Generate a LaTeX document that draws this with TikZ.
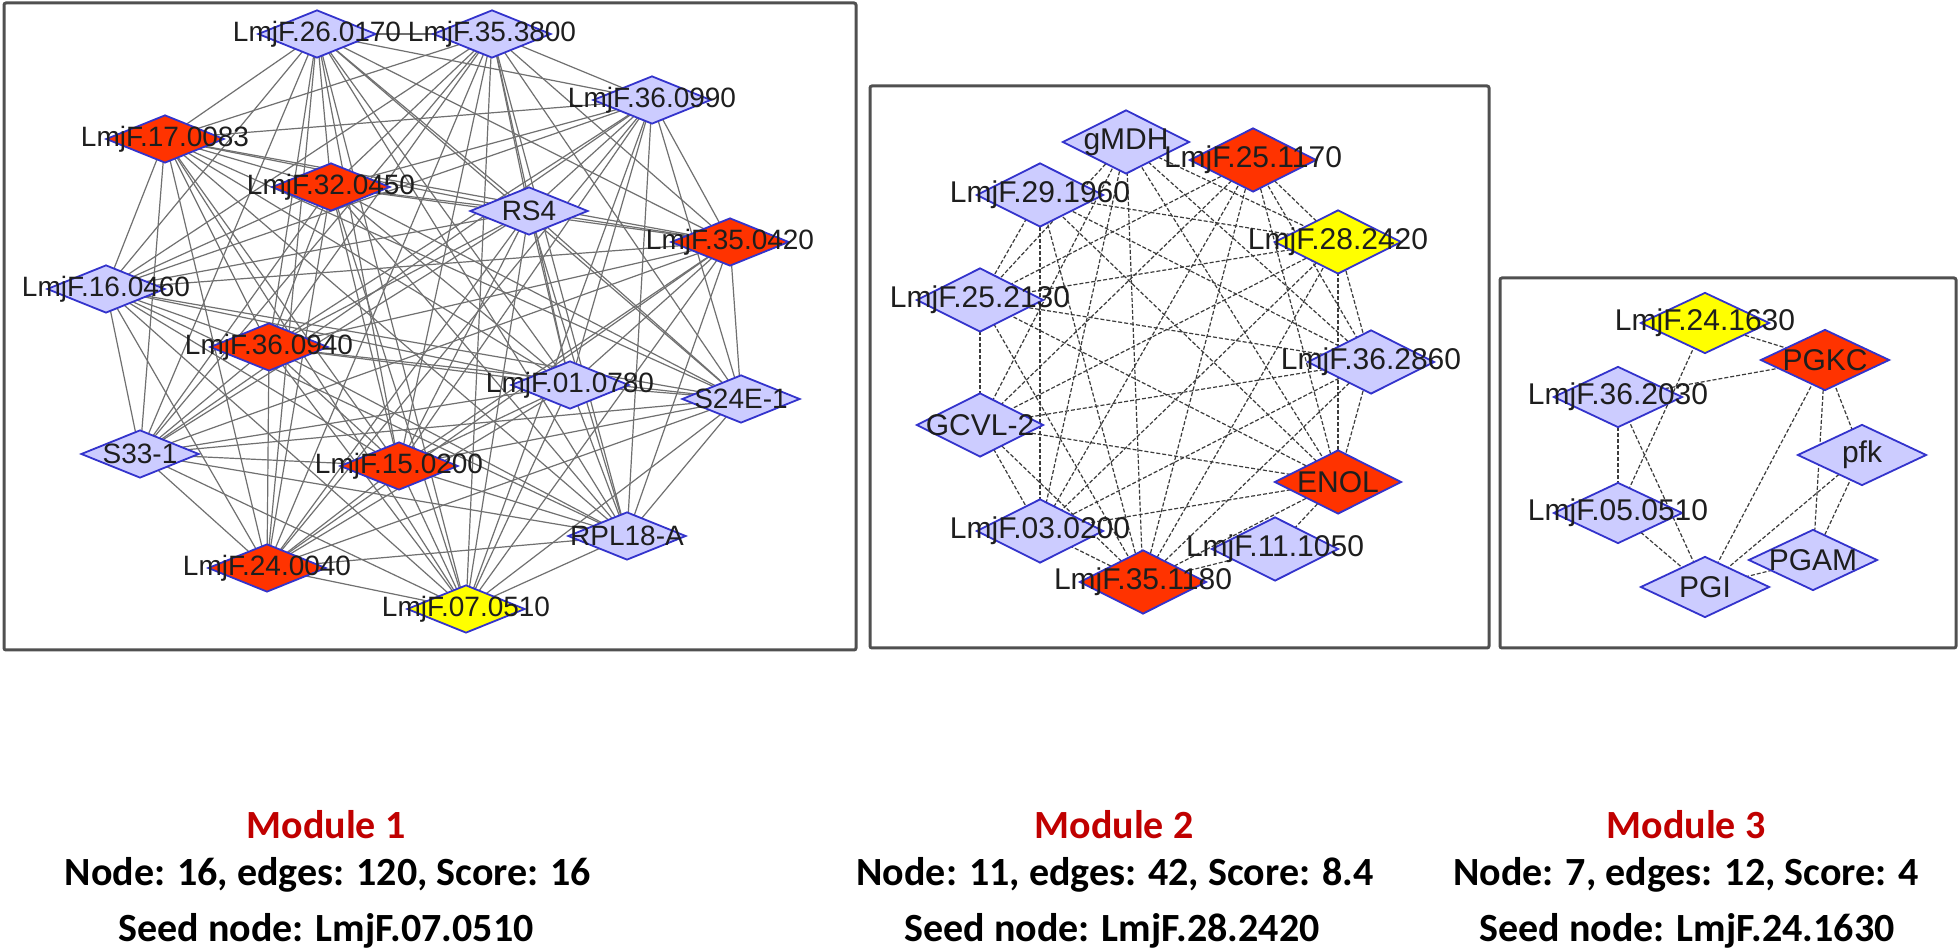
\documentclass[tikz,border=0pt]{standalone}
\usepackage{fontspec}
\setmainfont{Liberation Sans}
\newfontfamily\carl{Carlito}
\usetikzlibrary{shapes.geometric,backgrounds}
\definecolor{lav}{RGB}{204,204,255}
\definecolor{nred}{RGB}{255,51,0}
\definecolor{nyel}{RGB}{255,255,0}
\definecolor{nbord}{RGB}{51,51,204}
\definecolor{framec}{RGB}{80,80,80}
\definecolor{modred}{RGB}{192,0,0}
\definecolor{edgeone}{RGB}{112,112,112}
\definecolor{edgetwo}{RGB}{60,60,60}
\definecolor{labtxt}{RGB}{30,30,30}
\begin{document}
\begin{tikzpicture}[x=0.5pt,y=-0.5pt,
  diaone/.style={diamond, draw=nbord, line width=0.9pt, inner sep=0pt, minimum width=59pt, minimum height=24pt},
  diatwo/.style={diamond, draw=nbord, line width=0.9pt, inner sep=0pt, minimum width=63.5pt, minimum height=32pt},
  diathree/.style={diamond, draw=nbord, line width=0.9pt, inner sep=0pt, minimum width=64.5pt, minimum height=30.5pt},
  labone/.style={font=\fontsize{14}{16}\selectfont, text=labtxt, inner sep=0pt},
  labtwo/.style={font=\fontsize{15}{17}\selectfont, text=labtxt, inner sep=0pt},
  eone/.style={draw=edgeone, line width=0.6pt},
  etwo/.style={draw=edgetwo, line width=0.6pt, dash pattern=on 2pt off 1pt},
  modbox/.style={draw=framec, line width=1.5pt, rounded corners=1pt},
  capt/.style={font=\carl\bfseries\fontsize{20}{24}\selectfont, inner sep=0pt}
]
\useasboundingbox (0,0) rectangle (1960,951);
\begin{scope}[on background layer]
  \fill[white] (0,0) rectangle (1960,951);
\end{scope}

% frames
\draw[modbox] (4,3) rectangle (856,650);
\draw[modbox] (870,86) rectangle (1489,648);
\draw[modbox] (1500,278) rectangle (1956,648);

% Module 1 nodes
\foreach \n/\x/\y/\c in {
  1/317/34/lav, 2/492/34/lav, 3/652/100/lav, 4/165/139/nred,
  5/331/187/nred, 6/529/211/lav, 7/730/242/nred, 8/106/289/lav,
  9/269/347/nred, 10/570/385/lav, 11/741/399/lav, 12/140/454/lav,
  13/399/466/nred, 14/627/536/lav, 15/267/568/nred, 16/466/609/nyel}
  \node[diaone, fill=\c] (a\n) at (\x,\y) {};

% Module 2 nodes
\foreach \n/\x/\y/\c in {
  1/1126/142/lav, 2/1253/160/nred, 3/1338/242/nyel, 4/1371/362/lav,
  5/1338/482/nred, 6/1275/549/lav, 7/1143/582/nred, 8/1040/531/lav,
  9/980/425/lav, 10/980/300/lav, 11/1040/195/lav}
  \node[diatwo, fill=\c] (b\n) at (\x,\y) {};

% Module 3 nodes
\foreach \n/\x/\y/\c in {
  1/1705/323/nyel, 2/1825/360/nred, 3/1618/397/lav, 4/1862/455/lav,
  5/1618/513/lav, 6/1813/560/lav, 7/1705/587/lav}
  \node[diathree, fill=\c] (c\n) at (\x,\y) {};

% edges
\begin{scope}[on background layer]
  \foreach \i in {1,...,15} {
    \pgfmathtruncatemacro\k{\i+1}
    \foreach \j in {\k,...,16} \draw[eone] (a\i.center) -- (a\j.center);
  }
  \foreach \i/\j in {1/3,1/4,1/5,1/7,1/8,1/9,1/10,
    2/3,2/4,2/5,2/7,2/8,2/9,2/10,
    3/4,3/5,3/7,3/8,3/9,3/10,3/11,
    4/5,4/7,4/8,4/9,4/10,4/11,
    5/6,5/7,5/8,5/9,5/10,5/11,
    6/7,
    7/8,7/9,7/10,7/11,
    8/9,8/11,
    9/10,
    10/11}
    \draw[etwo] (b\i.center) -- (b\j.center);
  \foreach \i/\j in {1/2,1/5,3/2,3/5,3/7,5/7,2/7,2/6,2/4,4/7,4/6,6/7}
    \draw[etwo] (c\i.center) -- (c\j.center);
\end{scope}

% labels module 1
\foreach \n/\t in {1/LmjF.26.0170,2/LmjF.35.3800,3/LmjF.36.0990,4/LmjF.17.0083,
  5/LmjF.32.0450,6/RS4,7/LmjF.35.0420,8/LmjF.16.0460,9/LmjF.36.0940,
  10/LmjF.01.0780,11/S24E-1,12/S33-1,13/LmjF.15.0200,14/RPL18-A,
  15/LmjF.24.0040,16/LmjF.07.0510}
  \node[labone] (la\n) at (a\n.center) {\t};
% labels module 2
\foreach \n/\t in {1/gMDH,2/LmjF.25.1170,3/LmjF.28.2420,4/LmjF.36.2860,5/ENOL,
  6/LmjF.11.1050,7/LmjF.35.1180,8/LmjF.03.0200,9/GCVL-2,10/LmjF.25.2130,
  11/LmjF.29.1960}
  \node[labtwo] (lb\n) at (b\n.center) {\t};
% labels module 3
\foreach \n/\t in {1/LmjF.24.1630,2/PGKC,3/LmjF.36.2030,4/pfk,5/LmjF.05.0510,
  6/PGAM,7/PGI}
  \node[labtwo] (lc\n) at (c\n.center) {\t};

% captions
\node[capt, text=modred] (m1) at (326,825) {Module 1};
\node[capt] (m1a) at (328,875) {Node: 16, edges: 120, Score: 16};
\node[capt] (m1b) at (326,931) {Seed node: LmjF.07.0510};
\node[capt, text=modred] (m2) at (1114,825) {Module 2};
\node[capt] (m2a) at (1115,875) {Node: 11, edges: 42, Score: 8.4};
\node[capt] (m2b) at (1112,931) {Seed node: LmjF.28.2420};
\node[capt, text=modred] (m3) at (1686,825) {Module 3};
\node[capt] (m3a) at (1686,875) {Node: 7, edges: 12, Score: 4};
\node[capt] (m3b) at (1687,931) {Seed node: LmjF.24.1630};
\end{tikzpicture}
\end{document}
